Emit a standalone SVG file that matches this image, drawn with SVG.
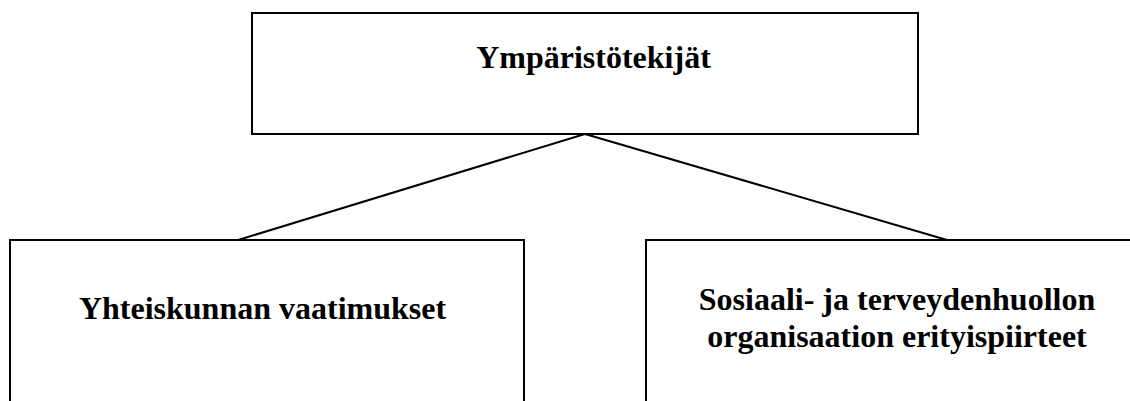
<svg xmlns="http://www.w3.org/2000/svg" width="1130" height="401" viewBox="0 0 1130 401">
<style>
.box{fill:#fff;stroke:#000;stroke-width:2}
.t{font-family:"Liberation Serif","Times New Roman",serif;font-weight:bold;font-size:32px;fill:#000}
.c{stroke:#000;stroke-width:2;fill:none}
</style>
<rect width="1130" height="401" fill="#fff"/>
<g id="top">
<rect class="box" x="252" y="13" width="666" height="121"/>
<text class="t" x="593.5" y="68" text-anchor="middle">Ympäristötekijät</text>
</g>
<g id="left">
<rect class="box" x="10" y="240" width="514" height="200"/>
<text class="t" x="262.5" y="319" text-anchor="middle">Yhteiskunnan vaatimukset</text>
</g>
<g id="right">
<rect class="box" x="646" y="240" width="520" height="200"/>
<text class="t" x="897" y="310" text-anchor="middle">Sosiaali- ja terveydenhuollon</text>
<text class="t" x="897" y="347" text-anchor="middle">organisaation erityispiirteet</text>
</g>
<g id="connectors">
<line class="c" x1="585" y1="134" x2="238" y2="240"/>
<line class="c" x1="585" y1="134" x2="947" y2="240"/>
</g>
</svg>
